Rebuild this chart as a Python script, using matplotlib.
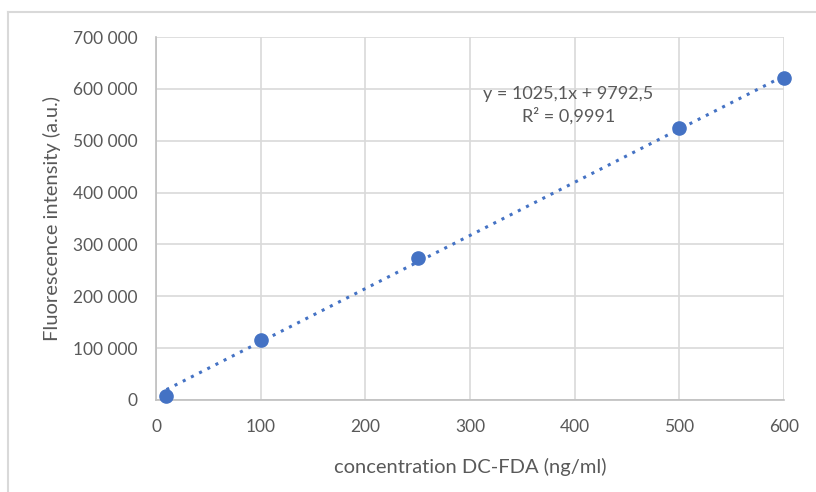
import matplotlib
matplotlib.use("Agg")
import matplotlib.pyplot as plt
import numpy as np
from matplotlib.lines import Line2D

concentration = [10, 100, 250, 500, 600]
intensity = [7000, 116000, 274000, 524000, 620000]
slope = 1025.1
intercept = 9792.5
y_ticks = [0, 100000, 200000, 300000, 400000, 500000, 600000, 700000]
x_ticks = [0, 100, 200, 300, 400, 500, 600]
eq_text = "y = 1025,1x + 9792,5\nR² = 0,9991"

plt.rcParams['font.family'] = ['Lato', 'DejaVu Sans']
fig = plt.figure(figsize=(8.16, 4.92), dpi=100)
ax = fig.add_axes([156/816, 1-400/492, (784-156)/816, (400-37)/492])

# chart border (left and top only visible)
fig.add_artist(Line2D([8/816, 8/816], [0, 1-12/492], color='#d9d9d9', lw=1.5, transform=fig.transFigure))
fig.add_artist(Line2D([8/816, 1], [1-12/492, 1-12/492], color='#d9d9d9', lw=1.5, transform=fig.transFigure))

ax.set_xlim(0, 600)
ax.set_ylim(0, 700000)
ax.set_xticks(x_ticks)
ax.set_yticks(y_ticks)
ax.set_yticklabels([f"{v:,}".replace(",", " ") for v in y_ticks])
ax.grid(True, color='#d9d9d9', lw=1.2)
ax.set_axisbelow(True)
for s in ['top', 'right']:
    ax.spines[s].set_visible(False)
for s in ['left', 'bottom']:
    ax.spines[s].set_color('#bfbfbf')
    ax.spines[s].set_linewidth(1.2)
ax.tick_params(length=0, colors='#595959', labelsize=12.5)
ax.tick_params(axis='y', pad=13)
ax.tick_params(axis='x', pad=14)

xs = np.array([min(concentration), max(concentration)])
ax.plot(xs, slope*xs + intercept, linestyle=(0, (1, 2)), color='#4472C4', lw=2.2, zorder=2, clip_on=False)
ax.plot(concentration, intensity, 'o', color='#4472C4', ms=9.5, zorder=3, clip_on=False)

ax.text(394, 569000, eq_text, ha='center', va='center', color='#595959', fontsize=13, linespacing=1.35)

ax.set_xlabel("concentration DC-FDA (ng/ml)", color='#595959', fontsize=14.5, labelpad=16)
ax.set_ylabel("Fluorescence intensity (a.u.)", color='#595959', fontsize=14.5, labelpad=9)

fig.savefig("out.png", dpi=100)
